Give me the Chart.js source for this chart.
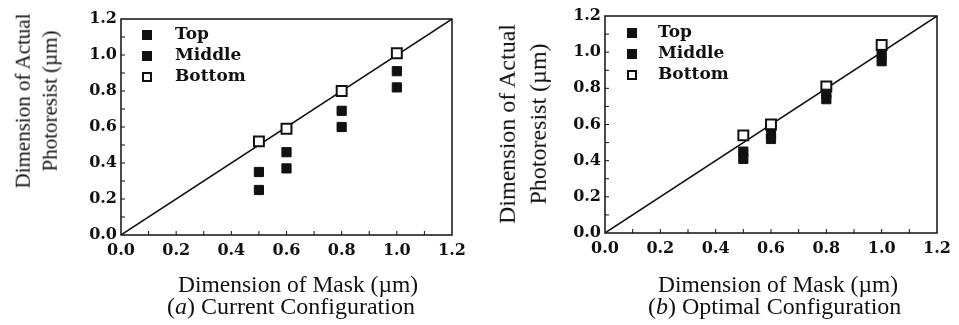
<!DOCTYPE html>
<html>
<head>
<meta charset="utf-8">
<script src="https://cdn.jsdelivr.net/npm/chart.js@4"></script>
<style>
  body { margin: 0; background: #fff; width: 959px; height: 325px; position: relative; overflow: hidden; }
  canvas { position: absolute; top: 0; }
  .txt { position: absolute; font-family: "Liberation Serif", serif; color: #111; white-space: nowrap; line-height: 1; }
  .ytitle { transform: translate(-50%, -50%) rotate(-90deg); text-align: center; line-height: 1.3; }
</style>
</head>
<body>
<canvas id="currentChart" width="475" height="325" style="left:0"></canvas>
<canvas id="optimalChart" width="475" height="325" style="left:484px"></canvas>

<div class="txt ytitle" style="left:37px; top:101px; font-size:21px">Dimension of Actual<br>Photoresist (µm)</div>
<div class="txt" style="left:178px; top:273px; font-size:23.5px">Dimension of Mask (µm)</div>
<div class="txt" style="left:167px; top:294px; font-size:24px">(<i>a</i>) Current Configuration</div>

<div class="txt ytitle" style="left:523px; top:124px; font-size:24px">Dimension of Actual<br>Photoresist (µm)</div>
<div class="txt" style="left:658px; top:273px; font-size:23.5px">Dimension of Mask (µm)</div>
<div class="txt" style="left:648px; top:294px; font-size:24px">(<i>b</i>) Optimal Configuration</div>

<script>
// mask dimension (µm) for every measured point
const maskSizes = [0.5, 0.6, 0.8, 1.0];

// (a) current configuration
const currentTop = [0.25, 0.37, 0.60, 0.82];
const currentMiddle = [0.35, 0.46, 0.69, 0.91];
const currentBottom = [0.52, 0.59, 0.80, 1.01];

// (b) optimal configuration
const optimalTop = [0.41, 0.52, 0.74, 0.95];
const optimalMiddle = [0.45, 0.55, 0.77, 0.99];
const optimalBottom = [0.54, 0.60, 0.81, 1.04];

const seriesNames = ['Top', 'Middle', 'Bottom'];
const idealLine = [0, 1.2];

const ink = '#111';
const tickFont = { family: '"DejaVu Serif", serif', size: 16, weight: 'bold' };

// frame, inward minor ticks and the in-plot legend
const framePlugin = {
  id: 'frame',
  afterDraw(chart) {
    const { ctx, chartArea: a, scales: { x, y } } = chart;
    ctx.save();
    ctx.strokeStyle = ink;
    ctx.lineWidth = 1.5;
    ctx.strokeRect(a.left, a.top, a.right - a.left, a.bottom - a.top);
    ctx.lineWidth = 1;
    ctx.beginPath();
    for (let i = 1; i < 12; i++) {
      const px = x.getPixelForValue(i / 10);
      ctx.moveTo(px, a.bottom);
      ctx.lineTo(px, a.bottom - 4);
      const py = y.getPixelForValue(i / 10);
      ctx.moveTo(a.left, py);
      ctx.lineTo(a.left + 4, py);
    }
    ctx.stroke();

    const lg = chart.options.plugins.frame;
    ctx.font = 'bold 17px "DejaVu Serif", serif';
    ctx.textBaseline = 'middle';
    chart.data.datasets.filter(d => d.inLegend).forEach((d, i) => {
      const cy = a.top + lg.top + i * 21;
      const cx = a.left + lg.marker;
      ctx.fillStyle = d.backgroundColor;
      ctx.strokeStyle = ink;
      ctx.lineWidth = 2;
      ctx.fillRect(cx - 4, cy - 4, 8, 8);
      ctx.strokeRect(cx - 4, cy - 4, 8, 8);
      ctx.fillStyle = ink;
      ctx.fillText(d.label, a.left + lg.text, cy);
    });
    ctx.restore();
  }
};

function points(ys) {
  return maskSizes.map((m, i) => ({ x: m, y: ys[i] }));
}

function makeChart(id, top, middle, bottom, box) {
  const fills = [ink, ink, '#fff'];
  const values = [top, middle, bottom];
  const datasets = seriesNames.map((name, k) => ({
    type: 'scatter',
    label: name,
    inLegend: true,
    data: points(values[k]),
    pointStyle: 'rect',
    pointRadius: k === 2 ? 7 : 6.5,
    backgroundColor: fills[k],
    borderColor: ink,
    borderWidth: k === 2 ? 2 : 1
  }));
  datasets.push({
    type: 'line',
    label: 'ideal',
    data: idealLine.map(v => ({ x: v, y: v })),
    borderColor: ink,
    borderWidth: 1.5,
    pointRadius: 0,
    fill: false
  });

  return new Chart(document.getElementById(id), {
    data: { datasets },
    options: {
      responsive: false,
      animation: false,
      layout: { padding: { top: box.top, right: 475 - box.right, left: 0, bottom: 0 } },
      plugins: {
        legend: { display: false },
        tooltip: { enabled: false },
        frame: box.legend
      },
      scales: {
        x: {
          type: 'linear',
          min: 0, max: 1.2,
          grid: { display: false, drawTicks: false },
          border: { display: false },
          ticks: { stepSize: 0.2, autoSkip: false, color: ink, font: tickFont, padding: 6, callback: v => v.toFixed(1) },
          afterFit: s => { s.height = 325 - box.bottom; }
        },
        y: {
          type: 'linear',
          min: 0, max: 1.2,
          grid: { display: false, drawTicks: false },
          border: { display: false },
          ticks: { stepSize: 0.2, color: ink, font: tickFont, padding: 4, callback: v => v.toFixed(1) },
          afterFit: s => { s.width = box.left; }
        }
      }
    },
    plugins: [framePlugin]
  });
}

makeChart('currentChart', currentTop, currentMiddle, currentBottom,
  { left: 121, right: 452, top: 19, bottom: 235, legend: { top: 16, marker: 26, text: 54 } });
makeChart('optimalChart', optimalTop, optimalMiddle, optimalBottom,
  { left: 121, right: 453, top: 16, bottom: 233, legend: { top: 17, marker: 27, text: 53 } });
</script>
</body>
</html>
